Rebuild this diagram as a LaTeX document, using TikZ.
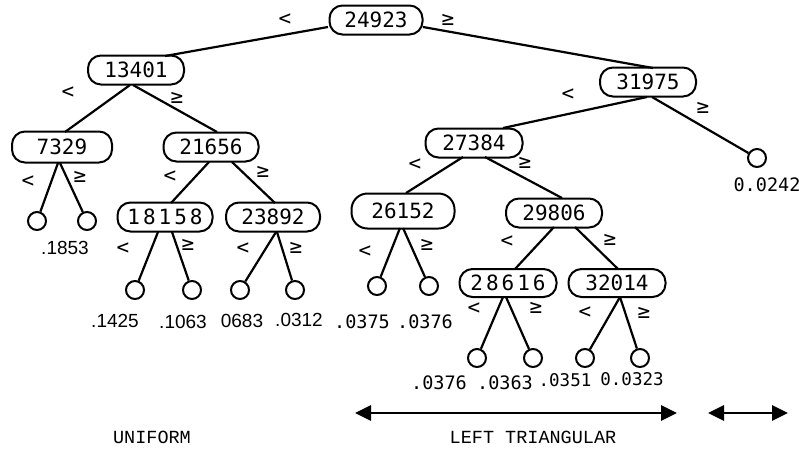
\documentclass[tikz,border=0pt]{standalone}
\usepackage{fontspec}
\usetikzlibrary{calc,arrows.meta}
\newfontfamily\numfont{DejaVu Sans Mono}
\newfontfamily\helvfont{Liberation Sans}
\newfontfamily\courfont{Liberation Mono}
\begin{document}
\begin{tikzpicture}[x=1pt,y=-1pt,
  splitbox/.style={draw,line width=2pt,rounded corners=13pt,minimum height=29pt,minimum width=96pt,inner sep=0pt,font=\numfont\fontsize{21}{21}\selectfont},
  leafnode/.style={draw,circle,line width=2pt,minimum size=18pt,inner sep=0pt},
  conn/.style={line width=2.2pt},
  cmptext/.style={font=\numfont\fontsize{21}{21}\selectfont,inner sep=0pt},
  valh/.style={font=\helvfont\fontsize{19}{19}\selectfont,inner sep=0pt},
  valm/.style={font=\numfont\fontsize{18.5}{18.5}\selectfont,inner sep=0pt},
  captext/.style={font=\courfont\fontsize{18.5}{18.5}\selectfont,inner sep=0pt},
  spanline/.style={line width=2.8pt,{Triangle[length=16pt,width=15pt]}-{Triangle[length=16pt,width=15pt]}}
]
\useasboundingbox (0,0) rectangle (799,448);
% split nodes
\node[splitbox,minimum width=93pt] (r) at (376,20) {24923};
\node[splitbox] (a) at (136,70) {13401};
\node[splitbox] (b) at (648,82) {31975};
\node[splitbox,minimum width=100pt,minimum height=31pt] (c) at (62,147) {7329};
\node[splitbox,minimum width=95pt] (d) at (211,147) {21656};
\node[splitbox,minimum width=97pt] (e) at (474,143) {27384};
\node[splitbox,minimum width=95pt] (f) at (165,217) {1\kern3pt8\kern3pt1\kern3pt5\kern3pt8};
\node[splitbox,minimum width=94pt] (g) at (273,217) {23892};
\node[splitbox,minimum width=103pt,minimum height=35pt,rounded corners=16pt] (h) at (403,211) {26152};
\node[splitbox] (i) at (554,213) {29806};
\node[splitbox,minimum width=97pt,minimum height=28pt] (j) at (508,283) {2\kern3pt8\kern3pt6\kern3pt1\kern3pt6};
\node[splitbox,minimum width=97pt,minimum height=28pt] (k) at (617,283) {32014};
% leaves
\node[leafnode] (l1) at (37,221) {};
\node[leafnode] (l2) at (87,221) {};
\node[leafnode] (l3) at (135,290) {};
\node[leafnode] (l4) at (192,290) {};
\node[leafnode] (l5) at (240,290) {};
\node[leafnode] (l6) at (295,290) {};
\node[leafnode] (l7) at (377,286) {};
\node[leafnode] (l8) at (429,286) {};
\node[leafnode] (l9) at (477,358) {};
\node[leafnode] (l10) at (533,358) {};
\node[leafnode] (l11) at (585,358) {};
\node[leafnode] (l12) at (640,358) {};
\node[leafnode] (l13) at (757,158) {};
% connectors
\draw[conn] ($(r.center)+(-48,7)$) -- ($(a.center)+(29,-14)$);
\draw[conn] ($(r.center)+(47,7)$) -- ($(b.center)+(5,-14)$);
\draw[conn] ($(a.center)+(-6,15)$) -- ($(c.center)+(3,-15)$);
\draw[conn] ($(a.center)+(-3,15)$) -- ($(d.center)+(6,-15)$);
\draw[conn] ($(b.center)+(-1,15)$) -- ($(e.center)+(29,-15)$);
\draw[conn] ($(b.center)+(4,15)$) -- (l13);
\draw[conn] ($(c.center)+(-4,16)$) -- (l1);
\draw[conn] ($(c.center)+(-2,16)$) -- (l2);
\draw[conn] ($(d.center)+(-2,15)$) -- ($(f.center)+(6,-14)$);
\draw[conn] ($(d.center)+(21,15)$) -- ($(g.center)+(2,-14)$);
\draw[conn] ($(e.center)+(-11,14)$) -- ($(h.center)+(3,-18)$);
\draw[conn] ($(e.center)+(11,14)$) -- ($(i.center)+(8,-15)$);
\draw[conn] ($(f.center)+(-7,15)$) -- (l3);
\draw[conn] ($(f.center)+(7,15)$) -- (l4);
\draw[conn] ($(g.center)+(3,15)$) -- (l5);
\draw[conn] ($(g.center)+(4,15)$) -- (l6);
\draw[conn] ($(h.center)+(-3,17)$) -- (l7);
\draw[conn] ($(h.center)+(0,17)$) -- (l8);
\draw[conn] ($(i.center)+(0,14)$) -- ($(j.center)+(7,-14)$);
\draw[conn] ($(i.center)+(21,14)$) -- ($(k.center)+(1,-14)$);
\draw[conn] ($(j.center)+(-5,14)$) -- (l9);
\draw[conn] ($(j.center)+(-2,14)$) -- (l10);
\draw[conn] ($(k.center)+(3,14)$) -- (l11);
\draw[conn] ($(k.center)+(3,14)$) -- (l12);
% comparison labels
\node[cmptext] (rl) at (285,20) {<};  \node[cmptext] (rg) at (448,20) {≥};
\node[cmptext] (al) at (68,93) {<};   \node[cmptext] (ag) at (177,98) {≥};
\node[cmptext] (bl) at (568,95) {<};  \node[cmptext] (bg) at (703,108) {≥};
\node[cmptext] (cl) at (28,182) {<};  \node[cmptext] (cg) at (80,177) {≥};
\node[cmptext] (dl) at (170,177) {<}; \node[cmptext] (dg) at (263,172) {≥};
\node[cmptext] (el) at (415,165) {<}; \node[cmptext] (eg) at (525,163) {≥};
\node[cmptext] (fl) at (123,249) {<}; \node[cmptext] (fg) at (188,245) {≥};
\node[cmptext] (gl) at (243,249) {<}; \node[cmptext] (gg) at (296,248) {≥};
\node[cmptext] (hl) at (365,252) {<}; \node[cmptext] (hg) at (427,245) {≥};
\node[cmptext] (il) at (507,242) {<}; \node[cmptext] (ig) at (610,240) {≥};
\node[cmptext] (jl) at (474,309) {<}; \node[cmptext] (jg) at (536,308) {≥};
\node[cmptext] (kl) at (585,313) {<}; \node[cmptext] (kg) at (644,313) {≥};
% leaf values
\node[valh] (v1) at (65,248) {.1853};
\node[valh] (v3) at (115,321) {.1425};
\node[valh] (v4) at (183,322) {.1063};
\node[valh] (v5) at (242,321) {0683};
\node[valh] (v6) at (299,320) {.0312};
\node[valm] (v7) at (362,322) {.0375};
\node[valm] (v8) at (425,322) {.0376};
\node[valm] (v9) at (439,383) {.0376};
\node[valm] (v10) at (505,383) {.0363};
\node[valm,font=\numfont\fontsize{17.5}{17.5}\selectfont] (v11) at (565,380) {.0351};
\node[valm,font=\numfont\fontsize{17.5}{17.5}\selectfont] (v12) at (632,379) {0.0323};
\node[valm] (v13) at (767,185) {0.0242};
% spans
\coordinate (s1a) at (355,413);
\coordinate (s1b) at (677,413);
\coordinate (s2a) at (708,413);
\coordinate (s2b) at (788,413);
\draw[spanline] (s1a) -- (s1b);
\draw[spanline] (s2a) -- (s2b);
\node[captext] (uni) at (152,437) {UNIFORM};
\node[captext] (lt) at (533,437) {LEFT TRIANGULAR};
\end{tikzpicture}
\end{document}
